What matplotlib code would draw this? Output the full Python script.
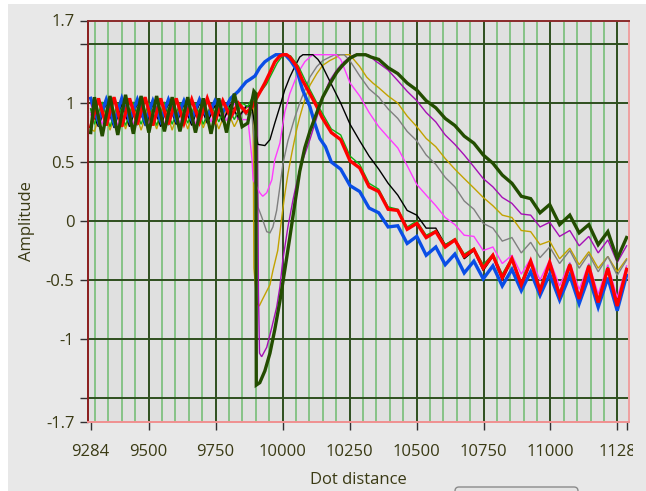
import matplotlib
matplotlib.use("Agg")
import matplotlib.pyplot as plt
from matplotlib.patches import Rectangle, FancyBboxPatch
from matplotlib.transforms import Bbox, TransformedBbox, IdentityTransform

# ripple positions (peaks / troughs)
x_base_a = [9284, 9313, 9342, 9371, 9400, 9429, 9458, 9487, 9516, 9545, 9574,
            9603, 9632, 9661, 9690, 9719, 9748, 9777, 9806, 9835, 9864]
x_base_b = [9284, 9298, 9327, 9356, 9385, 9414, 9443, 9472, 9501, 9530, 9559,
            9588, 9617, 9646, 9675, 9704, 9733, 9762, 9791, 9820, 9849]
x_tail = [10147, 10182, 10217, 10252, 10288, 10323, 10359, 10394, 10430, 10465,
          10501, 10536, 10572, 10607, 10643, 10678, 10714, 10749, 10785, 10820,
          10856, 10891, 10926, 10961, 10997, 11034, 11072, 11107, 11143, 11178,
          11214, 11249, 11284]

# blue
blue_base = [1.04, 0.84, 1.03, 0.83, 1.04, 0.85, 1.03, 0.84, 1.02, 0.85, 1.03,
             0.86, 1.02, 0.86, 1.03, 0.88, 1.02, 0.92, 1.04, 1.10, 1.18]
blue_px = [9878, 9897, 9915, 9934, 9953, 9975, 10010, 10030, 10053, 10075, 10102,
           10120, 10139, 10160]
blue_py = [1.20, 1.23, 1.30, 1.35, 1.38, 1.41, 1.41, 1.36, 1.28, 1.11, 0.97,
           0.83, 0.70, 0.63]
blue_tail = [0.50, 0.44, 0.30, 0.25, 0.11, 0.07, -0.05, -0.04, -0.19, -0.13, -0.29,
             -0.22, -0.37, -0.28, -0.44, -0.34, -0.49, -0.38, -0.55, -0.41, -0.59,
             -0.43, -0.63, -0.45, -0.67, -0.46, -0.70, -0.47, -0.73, -0.48, -0.76,
             -0.46]

# red
red_base = [0.80, 1.04, 0.81, 1.05, 0.80, 1.04, 0.82, 1.05, 0.81, 1.04, 0.82,
            1.04, 0.83, 1.03, 0.84, 1.04, 0.85, 1.02, 0.88, 1.00, 0.92]
red_px = [9885, 9900, 9915, 9934, 9953, 9971, 9990, 10001, 10015, 10027, 10053,
          10075, 10102, 10128]
red_py = [0.96, 1.03, 1.09, 1.17, 1.26, 1.35, 1.40, 1.41, 1.41, 1.39, 1.31,
          1.19, 1.08, 0.97]
red_tail = [0.88, 0.75, 0.69, 0.51, 0.45, 0.29, 0.25, 0.10, 0.09, -0.07, -0.02,
            -0.14, -0.09, -0.22, -0.16, -0.30, -0.24, -0.40, -0.29, -0.48, -0.32,
            -0.54, -0.34, -0.59, -0.35, -0.63, -0.37, -0.66, -0.38, -0.69, -0.40,
            -0.72, -0.41]

# green
green_base = [0.95, 0.82, 1.01, 0.80, 1.00, 0.81, 1.01, 0.82, 1.00, 0.81, 1.01,
              0.82, 1.00, 0.83, 1.00, 0.82, 0.99, 0.84, 1.00, 0.86, 1.00]
green_px = [9870, 9890, 9905, 9920, 9940, 9960, 9980, 10000, 10012, 10030, 10060,
            10085, 10110, 10135]
green_py = [0.97, 1.06, 1.08, 1.10, 1.16, 1.25, 1.34, 1.40, 1.41, 1.40, 1.31,
            1.19, 1.08, 0.97]
green_tail = [0.92, 0.78, 0.73, 0.55, 0.48, 0.32, 0.27, 0.12, 0.10, -0.05, 0.00,
              -0.12, -0.08, -0.20, -0.15, -0.28, -0.23, -0.37, -0.28, -0.45, -0.31,
              -0.52, -0.33, -0.57, -0.35, -0.61, -0.36, -0.64, -0.37, -0.67, -0.39,
              -0.70, -0.40]

# black
black_base = [0.95, 0.80, 1.00, 0.79, 0.99, 0.80, 1.00, 0.81, 0.99, 0.80, 1.00,
              0.82, 0.99, 0.81, 1.00, 0.83, 0.98, 0.84, 0.99, 0.88, 0.97]
black_px = [9885, 9900, 9908, 9934, 9953, 9971, 9990, 10008, 10027, 10046, 10064,
            10076, 10113, 10132]
black_py = [0.98, 0.75, 0.65, 0.64, 0.69, 0.83, 0.97, 1.11, 1.22, 1.31, 1.39,
            1.41, 1.41, 1.37]
black_tail = [1.32, 1.16, 1.00, 0.82, 0.68, 0.55, 0.44, 0.32, 0.22, 0.09, 0.05,
              -0.06, -0.06, -0.20, -0.16, -0.32, -0.25, -0.42, -0.30, -0.50, -0.33,
              -0.56, -0.35, -0.61, -0.36, -0.65, -0.38, -0.68, -0.39, -0.71, -0.41,
              -0.74, -0.42]

# magenta
magenta_base = [0.90, 1.04, 0.82, 1.03, 0.81, 1.04, 0.82, 1.03, 0.81, 1.04, 0.82,
                1.03, 0.83, 1.03, 0.82, 1.02, 0.84, 1.02, 0.85, 1.00, 0.86]
magenta_px = [9871, 9886, 9890, 9915, 9926, 9941, 9960, 9971, 9990, 10008, 10027,
              10046, 10064, 10083, 10102, 10113, 10200, 10217]
magenta_py = [0.86, 0.52, 0.35, 0.24, 0.21, 0.24, 0.35, 0.52, 0.66, 0.92, 1.08,
              1.19, 1.28, 1.35, 1.39, 1.41, 1.41, 1.37]
magenta_tail = [1.17, 1.06, 0.92, 0.80, 0.71, 0.62, 0.47, 0.31, 0.22, 0.13, 0.03,
                -0.03, -0.12, -0.13, -0.25, -0.22, -0.36, -0.29, -0.45, -0.32, -0.50,
                -0.33, -0.55, -0.35, -0.58, -0.36, -0.62, -0.37, -0.65, -0.38]

# gray
gray_base = [0.92, 1.02, 0.81, 1.03, 0.80, 1.02, 0.81, 1.03, 0.82, 1.02, 0.81,
             1.02, 0.83, 1.01, 0.82, 1.01, 0.84, 1.00, 0.86, 0.98, 0.90]
gray_px = [9885, 9900, 9908, 9923, 9941, 9953, 9964, 9978, 9990, 10001, 10020,
           10046, 10064, 10083, 10102, 10128, 10150, 10176, 10195, 10230, 10251]
gray_py = [0.92, 0.50, 0.12, 0.03, -0.09, -0.10, -0.05, 0.09, 0.29, 0.48, 0.68,
           0.88, 1.00, 1.11, 1.22, 1.31, 1.36, 1.39, 1.41, 1.41, 1.36]
gray_tail = [1.23, 1.12, 1.05, 0.95, 0.87, 0.76, 0.68, 0.56, 0.48, 0.37, 0.29,
             0.17, 0.10, -0.02, -0.06, -0.17, -0.14, -0.27, -0.18, -0.31, -0.22,
             -0.36, -0.25, -0.40, -0.28, -0.43, -0.30, -0.46, -0.33]

# gold
gold_base = [0.78, 0.76, 0.99, 0.77, 0.98, 0.78, 0.99, 0.77, 0.98, 0.78, 0.99,
             0.77, 0.98, 0.78, 0.97, 0.79, 0.96, 0.78, 0.95, 0.80, 0.93]
gold_px = [9878, 9890, 9893, 9905, 9913, 9926, 9953, 9964, 9982, 9997, 10008,
           10020, 10035, 10053, 10064, 10083, 10102, 10128, 10150, 10176, 10202,
           10214, 10251, 10262, 10288, 10314, 10337]
gold_py = [0.98, 1.00, -0.40, -0.70, -0.72, -0.66, -0.54, -0.42, -0.25, 0.03, 0.22,
           0.40, 0.58, 0.78, 0.88, 1.03, 1.15, 1.25, 1.32, 1.36, 1.39,
           1.41, 1.41, 1.38, 1.31, 1.22, 1.17]
gold_tail = [1.13, 1.06, 1.00, 0.89, 0.80, 0.70, 0.63, 0.53, 0.44, 0.36, 0.28,
             0.20, 0.13, 0.05, 0.03, -0.08, -0.09, -0.20, -0.17, -0.32, -0.23,
             -0.37, -0.26, -0.40, -0.30, -0.43, -0.32]

# purple
purple_base = [1.00, 0.80, 1.02, 0.81, 1.03, 0.80, 1.02, 0.82, 1.03, 0.81, 1.02,
               0.82, 1.02, 0.82, 1.01, 0.83, 1.01, 0.84, 1.00, 0.86, 0.98]
purple_px = [9880, 9906, 9910, 9914, 9922, 9941, 9960, 9978, 9990, 10001, 10020,
             10039, 10057, 10076, 10102, 10128, 10150, 10176, 10202, 10224, 10251,
             10270, 10320, 10345, 10370]
purple_py = [0.95, 1.00, -0.60, -1.12, -1.15, -1.07, -0.90, -0.73, -0.56, -0.33, -0.05,
             0.18, 0.37, 0.52, 0.69, 0.88, 1.05, 1.19, 1.28, 1.34, 1.39,
             1.41, 1.41, 1.36, 1.32]
purple_tail = [1.28, 1.19, 1.10, 1.02, 0.92, 0.84, 0.73, 0.65, 0.56, 0.46, 0.36,
               0.29, 0.20, 0.15, 0.06, 0.05, -0.05, -0.01, -0.13, -0.08, -0.21,
               -0.13, -0.27, -0.16, -0.35, -0.21]

# dark green
dkgreen_base = [0.75, 1.05, 0.72, 1.06, 0.73, 1.07, 0.74, 1.06, 0.75, 1.06, 0.76,
                1.05, 0.76, 1.05, 0.75, 1.04, 0.74, 1.04, 0.75, 1.08, 0.80]
dkgreen_px = [9870, 9893, 9900, 9902, 9915, 9934, 9953, 9971, 9990, 10008, 10027,
              10046, 10064, 10083, 10102, 10128, 10150, 10176, 10202, 10224, 10251,
              10277, 10310, 10330]
dkgreen_py = [0.83, 1.10, 1.08, -1.39, -1.37, -1.27, -1.12, -0.92, -0.68, -0.42, -0.14,
              0.15, 0.42, 0.62, 0.76, 0.92, 1.05, 1.16, 1.26, 1.32, 1.38,
              1.41, 1.41, 1.39]
dkgreen_tail = [1.37, 1.30, 1.25, 1.17, 1.11, 1.02, 0.96, 0.87, 0.81, 0.72, 0.66,
                0.56, 0.49, 0.39, 0.32, 0.21, 0.19, 0.07, 0.14, -0.03, 0.05,
                -0.10, -0.03, -0.20, -0.09, -0.32, -0.14]

x_major = [9284, 9500, 9750, 10000, 10250, 10500, 10750, 11000, 11250, 11284]
x_labels = ["9284", "9500", "9750", "10000", "10250", "10500", "10750", "11000", "1128", ""]
x_minor = [9300, 9350, 9400, 9450, 9550, 9600, 9650, 9700, 9800, 9850, 9900, 9950,
           10050, 10100, 10150, 10200, 10300, 10350, 10400, 10450, 10550, 10600,
           10650, 10700, 10800, 10850, 10900, 10950, 11050, 11100, 11150, 11200]
y_major = [-1.7, -1.5, -1, -0.5, 0, 0.5, 1, 1.5, 1.7]
y_labels = ["-1.7", "", "-1", "-0.5", "0", "0.5", "1", "", "1.7"]

# (base grid, base y, pulse x, pulse y, tail y, colour, width) in drawing order
series = [
    (x_base_b, gold_base, gold_px, gold_py, gold_tail, "#c2a200", 1.0),
    (x_base_a, gray_base, gray_px, gray_py, gray_tail, "#7f7f7f", 1.0),
    (x_base_a, purple_base, purple_px, purple_py, purple_tail, "#a50fb5", 1.0),
    (x_base_b, magenta_base, magenta_px, magenta_py, magenta_tail, "#ff3cff", 1.0),
    (x_base_a, black_base, black_px, black_py, black_tail, "#000000", 1.0),
    (x_base_b, green_base, green_px, green_py, green_tail, "#10b010", 1.0),
    (x_base_a, blue_base, blue_px, blue_py, blue_tail, "#0a4ee6", 2.4),
    (x_base_a, red_base, red_px, red_py, red_tail, "#ff0000", 2.4),
    (x_base_b, dkgreen_base, dkgreen_px, dkgreen_py, dkgreen_tail, "#234d00", 2.4),
]

txt = "#3a3a14"
font = "Open Sans"

fig = plt.figure(figsize=(6.46, 4.91), dpi=100, facecolor="white")
fig.add_artist(Rectangle((8 / 646, 0), 1, 1 - 4 / 491, transform=fig.transFigure,
                         facecolor="#e8e8e8", edgecolor="none", zorder=-10))
ax = fig.add_axes([88.3 / 646, 1 - 421.6 / 491, (629 - 88.3) / 646, (421.6 - 20.5) / 491])
ax.set_facecolor("#e0e0e0")

for xb, yb, xp, yp, yt, col, lw in series:
    xs = xb + xp + x_tail[len(x_tail) - len(yt):]
    ys = yb + yp + yt
    ax.plot(xs, ys, color=col, lw=lw, solid_joinstyle="miter", zorder=3)

ax.set_xlim(9275, 11293)
ax.set_ylim(-1.7, 1.7)

ax.set_xticks(x_major)
ax.set_xticklabels(x_labels)
ax.set_xticks(x_minor, minor=True)
ax.set_yticks(y_major)
ax.set_yticklabels(y_labels)

ax.grid(which="minor", axis="x", color="#86c386", lw=1.4, zorder=1)
ax.grid(which="major", axis="both", color="#2f4f1e", lw=1.4, zorder=2)
ax.set_axisbelow(True)

# no grid line on the ends (the frame is there)
xt = ax.xaxis.get_major_ticks()
yt_ = ax.yaxis.get_major_ticks()
for t in (xt[0], xt[-1], yt_[0], yt_[-1]):
    t.gridline.set_visible(False)

ax.tick_params(which="major", length=6, width=1, color="#303030", labelcolor=txt,
               labelsize=12)
ax.tick_params(axis="x", which="major", pad=10)
ax.tick_params(axis="y", which="major", pad=4)
ax.tick_params(which="minor", length=0)
for lab in ax.get_xticklabels() + ax.get_yticklabels():
    lab.set_fontfamily(font)

ax.spines["left"].set_color("#8a1c1c")
ax.spines["top"].set_color("#8a2a2a")
ax.spines["bottom"].set_color("#f09090")
ax.spines["right"].set_color("#f0a0a0")
for s in ax.spines.values():
    s.set_linewidth(1.4)
    s.set_zorder(4)

ax.set_ylabel("Amplitude", fontsize=12, color=txt, family=font, labelpad=8)
ax.set_xlabel("Dot distance", fontsize=12, color=txt, family=font, labelpad=9)

# last tick label is cut off by the panel edge
clip = TransformedBbox(Bbox([[0, 0], [633 / 646, 1]]), fig.transFigure)
last = ax.get_xticklabels()[8]
last.set_clip_on(True)
last.set_clip_box(clip)

fig.add_artist(FancyBboxPatch((455, -12), 123, 16, boxstyle="round,pad=0,rounding_size=4",
                              transform=IdentityTransform(), facecolor="#e4e4e4",
                              edgecolor="#8a8a8a", lw=1))

fig.savefig("out.png", dpi=100, facecolor=fig.get_facecolor())
